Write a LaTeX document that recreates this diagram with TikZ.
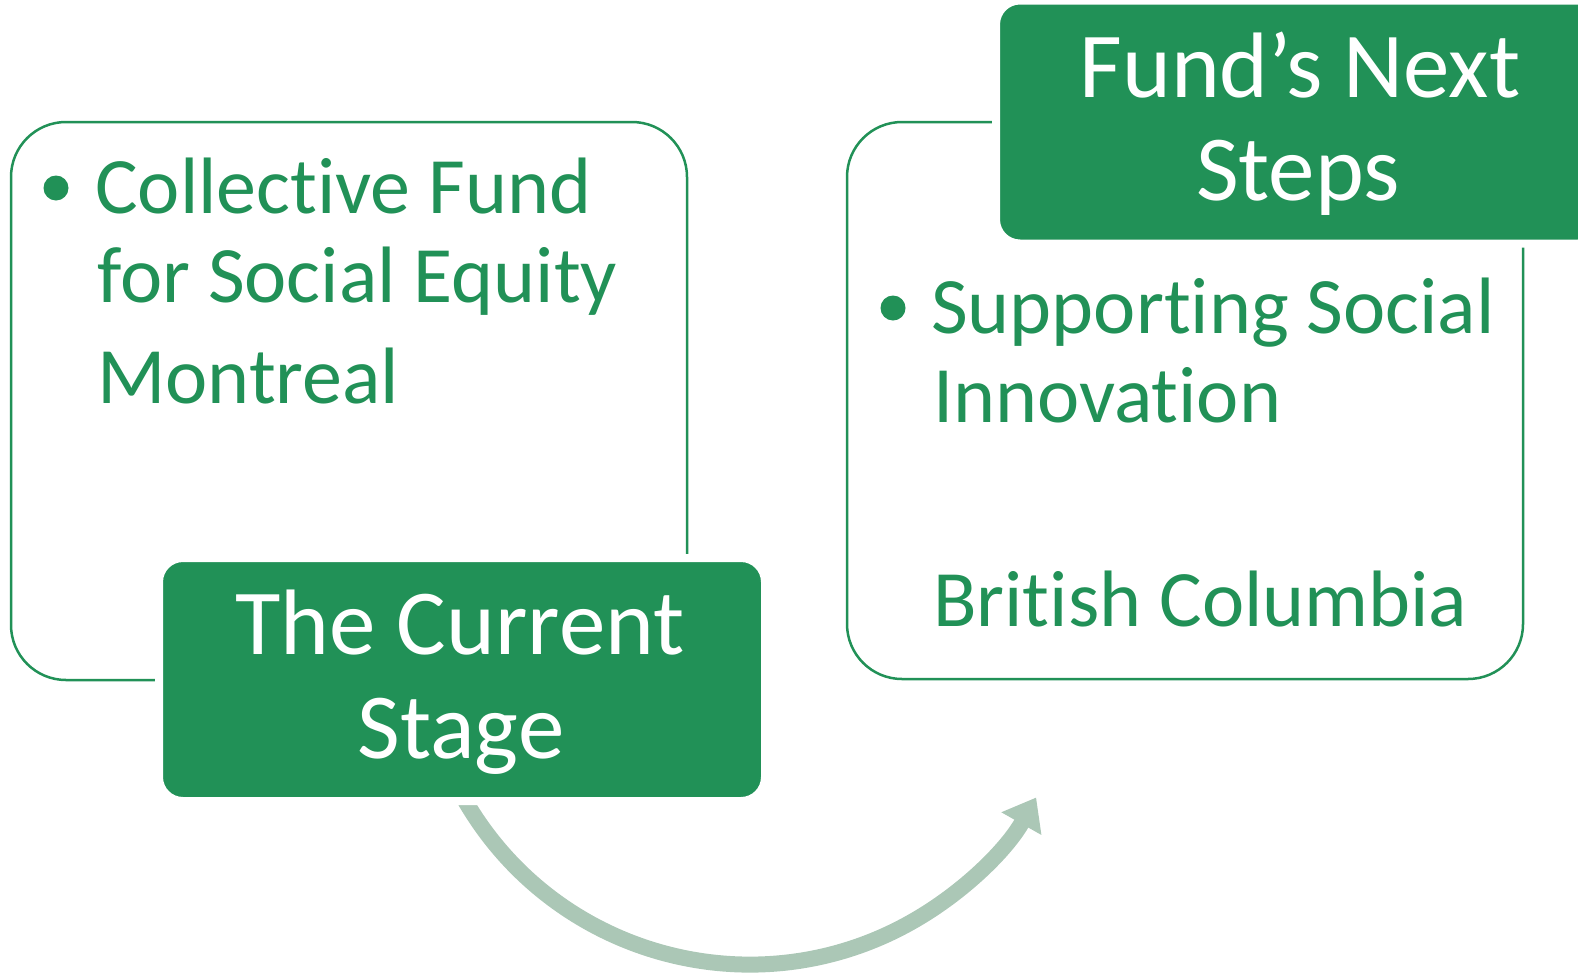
\documentclass[tikz,border=0pt]{standalone}
\usepackage{fontspec}
\setmainfont{Carlito}[Ligatures={NoCommon,NoContextual}]
\usetikzlibrary{arrows.meta}
\definecolor{fgreen}{RGB}{33,145,87}
\definecolor{farrow}{RGB}{171,199,182}
\tikzset{
  wbox/.style={draw=fgreen, line width=2.5pt, fill=white, rounded corners=55pt, inner sep=0pt},
  gbox/.style={draw=white, line width=8pt, fill=fgreen, rounded corners=24pt, inner sep=0pt,
    minimum width=606pt, minimum height=243pt},
  bodytext/.style={text=fgreen, inner sep=0pt, anchor=base west, font=\fontsize{80pt}{89pt}\selectfont},
  titletext/.style={text=white, inner sep=0pt, anchor=base, font=\fontsize{93pt}{104pt}\selectfont},
  bulletdot/.style={circle, fill=fgreen, inner sep=0pt, minimum size=25pt},
  bigarrow/.style={draw=farrow, line width=16pt, -{Triangle[length=30pt,width=44pt]}}
}
\begin{document}
\begin{tikzpicture}[x=1pt,y=-1pt]
\useasboundingbox (0,0) rectangle (1578,972);
\clip (0,0) rectangle (1578,972);

% white content boxes
\node[wbox, minimum width=676pt, minimum height=558pt] (leftbox) at (349,401) {};
\node[wbox, minimum width=676pt, minimum height=557pt] (rightbox) at (1185,400.5) {};

% curved arrow
\coordinate (arrS) at (463,797);
\draw[bigarrow] (arrS) arc[start angle=150.6, end angle=29.5, radius=329.1] coordinate (arrE);

% green title boxes
\node[gbox] (cur) at (462,679.5) {};
\node[gbox] (next) at (1299,122) {};

% titles
\node[titletext] (t1a) at (460,654) {The Current};
\node[titletext] (t1b) at (461,758) {Stage};
\node[titletext] (t2a) at (1300,97) {Fund’s Next};
\node[titletext] (t2b) at (1298,200) {Steps};

% left body text
\node[bulletdot] (b1) at (56,188) {};
\node[bodytext] (l1) at (95,213) {Collective Fund};
\node[bodytext] (l2) at (97,302) {for Social Equity};
\node[bodytext] (l3) at (97,403) {Montreal};

% right body text
\node[bulletdot] (b2) at (893,308) {};
\node[bodytext] (r1) at (931,333) {Supporting Social};
\node[bodytext] (r2) at (933,422) {Innovation};
\node[bodytext] (r3) at (933,626) {British Columbia};
\end{tikzpicture}
\end{document}
